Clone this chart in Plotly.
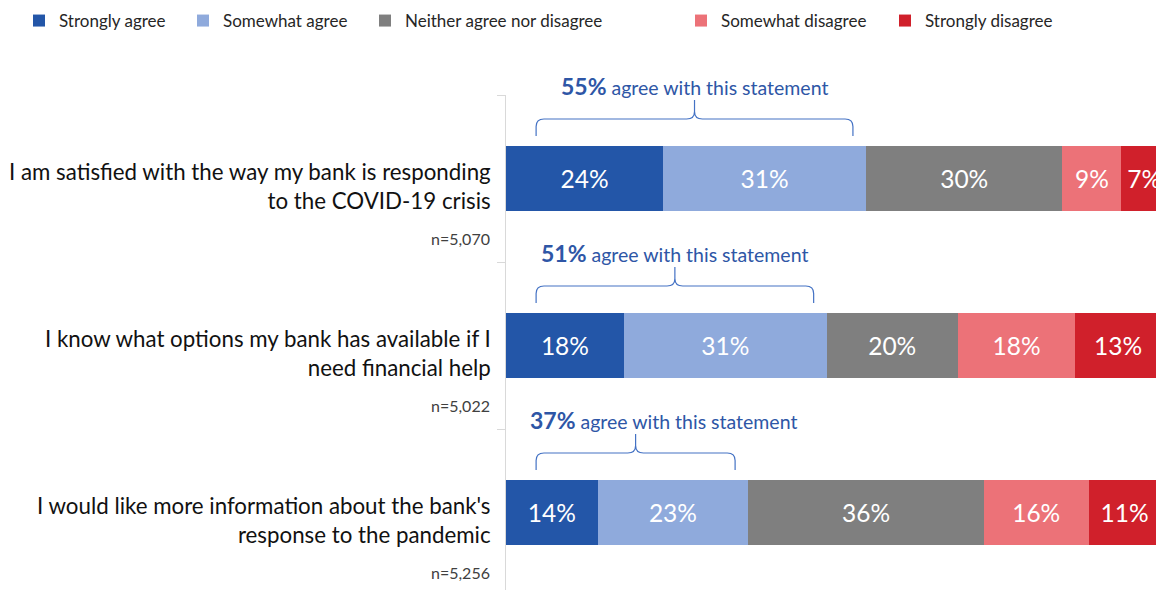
import plotly.graph_objects as go

# ---------------- data ----------------
statements = [
    "I am satisfied with the way my bank is responding<br>to the COVID-19 crisis",
    "I know what options my bank has available if I<br>need financial help",
    "I would like more information about the bank's<br>response to the pandemic",
]
sample_sizes = ["n=5,070", "n=5,022", "n=5,256"]
series_names = ["Strongly agree", "Somewhat agree", "Neither agree nor disagree",
                "Somewhat disagree", "Strongly disagree"]
strongly_agree = [24, 18, 14]
somewhat_agree = [31, 31, 23]
neither = [30, 20, 36]
somewhat_disagree = [9, 18, 16]
strongly_disagree = [7, 13, 11]
agree_totals = [55, 51, 37]

series_values = [strongly_agree, somewhat_agree, neither, somewhat_disagree, strongly_disagree]
colors = ["#2356A8", "#8FAADC", "#7F7F7F", "#EC7278", "#D0202B"]

FONT = "Lato"
W, H = 1156, 590
ML, MT = 506, 95
CAT_PX = 167
PLOT_W = W - ML
plot_h = H - MT
n_span = plot_h / CAT_PX

# left edge (px) of each legend entry's text in the reference layout
legend_text_px = [59, 223, 405, 721, 925]
legend_ids = ["legend", "legend2", "legend3", "legend4", "legend5"]

fig = go.Figure()
for name, vals, col, lid in zip(series_names, series_values, colors, legend_ids):
    fig.add_trace(go.Bar(
        y=statements, x=vals, name=name, orientation="h", legend=lid,
        marker=dict(color=col, line=dict(width=0)),
        text=[f"{v}%" for v in vals], textposition="inside",
        insidetextanchor="middle", textangle=0,
        textfont=dict(family=FONT, size=24.5, color="white"),
        hoverinfo="skip",
    ))

annotations = []
shapes = []
brace_col = "#4472C4"
text_col = "#2E56A6"
for i, (stmt, n) in enumerate(zip(statements, sample_sizes)):
    annotations.append(dict(
        xref="paper", yref="y", x=0, y=stmt, xanchor="right", yanchor="middle",
        xshift=-13, yshift=-7, text=stmt, align="right", showarrow=False,
        font=dict(family=FONT, size=22.3, color="#111111"),
    ))
    annotations.append(dict(
        xref="paper", yref="y", x=0, y=stmt, xanchor="right", yanchor="middle",
        xshift=-14, yshift=-59.5, text=n, align="right", showarrow=False,
        font=dict(family=FONT, size=16, color="#404040"),
    ))
    # curly brace spanning the agree segments
    x0 = 4.6
    x1 = strongly_agree[i] + somewhat_agree[i] - 2.0
    xm = (x0 + x1) / 2
    r = 1.2
    yb, yh, yp, ry = 42.5, 59.5, 78.5, 7.5
    path = (f"M{x0},{yb} L{x0},{yh-ry} Q{x0},{yh} {x0+r},{yh} "
            f"L{xm-r},{yh} Q{xm},{yh} {xm},{yh+ry} L{xm},{yp} "
            f"M{xm},{yh+ry} Q{xm},{yh} {xm+r},{yh} "
            f"L{x1-r},{yh} Q{x1},{yh} {x1},{yh-ry} L{x1},{yb}")
    shapes.append(dict(type="path", xref="x", yref="y", ysizemode="pixel",
                       yanchor=i, path=path,
                       line=dict(color=brace_col, width=1.2)))
    annotations.append(dict(
        xref="x", yref="y", x=max(xm, 24.0), y=stmt, xanchor="center",
        yanchor="middle", yshift=93, showarrow=False,
        text=f"<b><span style='font-size:23px'>{agree_totals[i]}%</span></b> agree with this statement",
        font=dict(family=FONT, size=19.5, color=text_col),
    ))

legend_layouts = {}
for lid, tx in zip(legend_ids, legend_text_px):
    legend_layouts[lid] = dict(
        orientation="h", xref="paper", yref="paper",
        x=(tx - 40 - ML) / PLOT_W, y=1 + (MT - 3) / plot_h,
        xanchor="left", yanchor="top", bgcolor="rgba(0,0,0,0)",
        font=dict(family=FONT, size=17, color="#262626"),
        itemclick=False, itemdoubleclick=False,
    )

fig.update_layout(
    width=W, height=H,
    margin=dict(l=ML, r=0, t=MT, b=0, pad=0, autoexpand=False),
    barmode="stack", bargap=0.608,
    plot_bgcolor="white", paper_bgcolor="white",
    font=dict(family=FONT, color="#262626"),
    uniformtext=dict(minsize=20, mode="show"),
    xaxis=dict(range=[0, 99.3], showgrid=False, zeroline=False,
               showticklabels=False, showline=False, fixedrange=True),
    yaxis=dict(categoryorder="array", categoryarray=statements,
               range=[-0.5 + n_span, -0.5], showticklabels=False,
               showgrid=False, zeroline=False, showline=True,
               linecolor="#D9D9D9", linewidth=1, ticks="outside",
               tickson="boundaries", ticklen=8, tickcolor="#D9D9D9",
               fixedrange=True),
    annotations=annotations,
    shapes=shapes,
    showlegend=True,
    **legend_layouts,
)

fig.write_html("out.html", config={"displayModeBar": False},
               post_script="document.body.style.margin='0';")
